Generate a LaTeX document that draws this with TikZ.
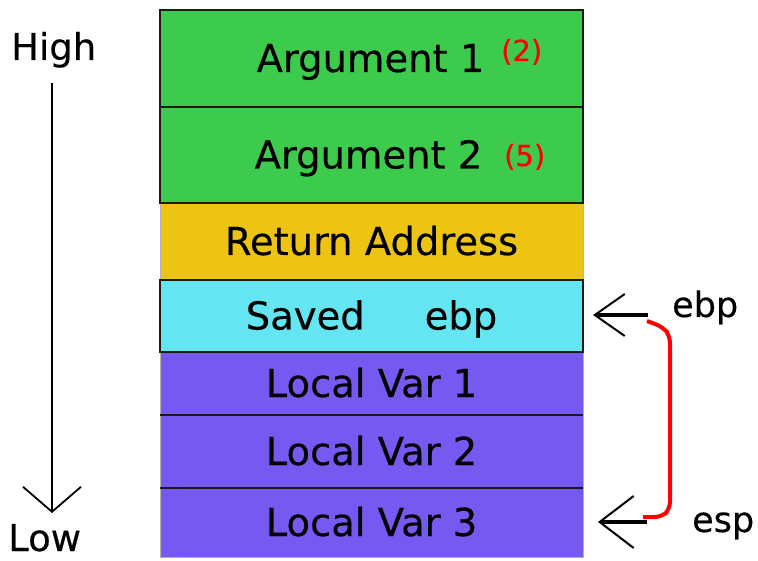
\documentclass[tikz,border=0pt]{standalone}
\usepackage{fontspec}
\setmainfont{DejaVu Sans}[FakeBold=0.4]
\usetikzlibrary{arrows.meta}
\definecolor{argc}{HTML}{3DCB4E}
\definecolor{retc}{HTML}{EEC412}
\definecolor{savc}{HTML}{63E6F2}
\definecolor{locc}{HTML}{7659F0}
\definecolor{bordc}{HTML}{1A1A1A}
\begin{document}
\begin{tikzpicture}[x=1pt,y=-1pt,
  cell/.style={rectangle, minimum width=423pt, inner sep=0pt, outer sep=0pt,
    font=\fontsize{38.5}{40}\selectfont, text height=27pt, text depth=0pt},
  blackcell/.style={cell, draw=bordc, line width=2.8pt},
  softcell/.style={cell, draw=gray!60, line width=1pt},
  lbl/.style={inner sep=0pt, anchor=base west, font=\fontsize{36}{40}\selectfont},
  num/.style={inner sep=0pt, anchor=base west, text=red, font=\fontsize{29}{30}\selectfont},
  ptr/.style={line width=3.4pt},
  ebptip/.style={-{Straight Barb[length=30pt, width=42pt, line width=2pt]}},
  esptip/.style={-{Straight Barb[length=34pt, width=52pt, line width=2pt]}},
  dirarrow/.style={line width=1.8pt, -{Straight Barb[length=25pt, width=58pt, line width=1.8pt]}},
  brace/.style={red, line width=4pt, rounded corners=7pt}]
\useasboundingbox (0,0) rectangle (758,561);
\fill[white] (0,0) rectangle (758,561);
% stack cells
\node[softcell, fill=retc, minimum height=77pt] (ret) at (371.5,241.5) {Return Address};
\node[blackcell, fill=argc, minimum height=97pt] (arg1) at (371.5,58.5) {\hspace*{-2pt}Argument 1};
\node[blackcell, fill=argc, minimum height=96pt] (arg2) at (371.5,155) {\hspace*{-6pt}Argument 2};
\node[softcell, fill=locc, minimum height=63pt] (lv1) at (371.5,383.5) {Local Var 1};
\node[softcell, fill=locc, minimum height=73pt] (lv2) at (371.5,451.5) {Local Var 2};
\node[softcell, fill=locc, minimum height=69pt] (lv3) at (371.5,522.5) {Local Var 3};
\node[blackcell, fill=savc, minimum height=72pt] (saved) at (371.5,316) {Saved\hspace{60pt}ebp};
\draw[bordc, line width=2.8pt] (lv1.south west) -- (lv1.south east);
\draw[bordc, line width=2.8pt] (lv2.south west) -- (lv2.south east);
% red values
\node[num] (v1) at (501,61) {(2)};
\node[num] (v2) at (504,166) {(5)};
% high / low
\node[lbl, font=\fontsize{37}{40}\selectfont] (high) at (11,60) {High};
\node[lbl, font=\fontsize{37}{40}\selectfont] (low) at (8,551) {Low};
\coordinate (hstart) at (52,83);
\coordinate (hend) at (52,513);
\draw[dirarrow] (hstart) -- (hend);
% ebp / esp
\node[lbl, font=\fontsize{35}{40}\selectfont] (ebp) at (672,317) {ebp};
\node[lbl, font=\fontsize{35}{40}\selectfont] (esp) at (692,532) {esp};
\coordinate (ebpfrom) at (648,315);
\coordinate (ebpto) at (593,315);
\coordinate (espfrom) at (647,522);
\coordinate (espto) at (598,522);
\draw[ptr, ebptip] (ebpfrom) -- (ebpto);
\draw[ptr, esptip] (espfrom) -- (espto);
\draw[brace] (647,321) -- (663,327) -- (670,336) -- (670,509) -- (662,517) -- (643,517);
\end{tikzpicture}
\end{document}
